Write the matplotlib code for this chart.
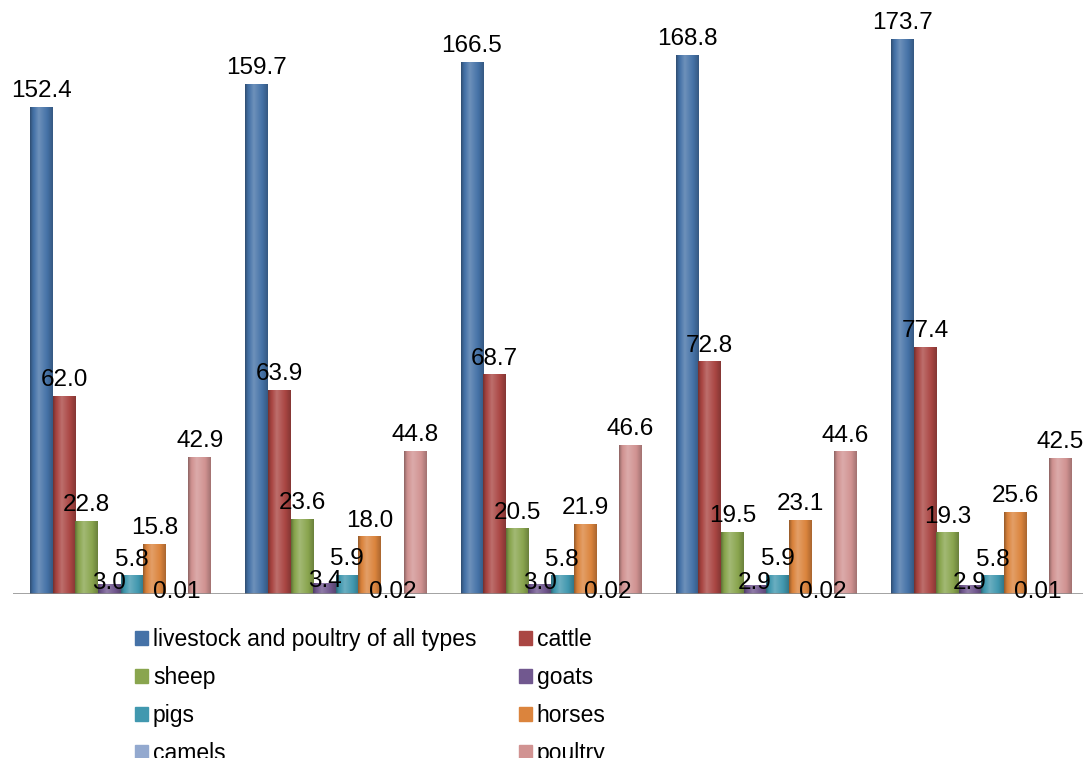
import numpy as np
import matplotlib.pyplot as plt
from matplotlib.colors import to_rgb
from matplotlib.patches import Patch

plt.rcParams['font.family'] = ['Liberation Sans', 'DejaVu Sans']

# livestock and poultry production, five periods (no period labels shown)
series = ['livestock and poultry of all types', 'cattle', 'sheep', 'goats',
          'pigs', 'horses', 'camels', 'poultry']
colors = ['#4572A7', '#AA4643', '#89A54E', '#71588F',
          '#4198AF', '#DB843D', '#93A9CF', '#D19392']
values = [
    [152.4, 159.7, 166.5, 168.8, 173.7],
    [62.0, 63.9, 68.7, 72.8, 77.4],
    [22.8, 23.6, 20.5, 19.5, 19.3],
    [3.0, 3.4, 3.0, 2.9, 2.9],
    [5.8, 5.9, 5.8, 5.9, 5.8],
    [15.8, 18.0, 21.9, 23.1, 25.6],
    [0.01, 0.02, 0.02, 0.02, 0.01],
    [42.9, 44.8, 46.6, 44.6, 42.5],
]
labels = [
    ['152.4', '159.7', '166.5', '168.8', '173.7'],
    ['62.0', '63.9', '68.7', '72.8', '77.4'],
    ['22.8', '23.6', '20.5', '19.5', '19.3'],
    ['3.0', '3.4', '3.0', '2.9', '2.9'],
    ['5.8', '5.9', '5.8', '5.9', '5.8'],
    ['15.8', '18.0', '21.9', '23.1', '25.6'],
    ['0.01', '0.02', '0.02', '0.02', '0.01'],
    ['42.9', '44.8', '46.6', '44.6', '42.5'],
]

W, H = 1083, 758
fig = plt.figure(figsize=(W / 100, H / 100), dpi=100)
ax = fig.add_axes([13 / W, (H - 594) / H, 1076 / W, 594 / H])

x = np.arange(5)
bw = 0.105


def shade(c, f):
    c = np.array(to_rgb(c))
    if f >= 1:
        return c + (1 - c) * (f - 1)
    return c * f


# horizontal gradient profile (dark edges, light streak left of centre)
pos = np.linspace(0, 1, 64)
prof = np.interp(pos, [0, 0.12, 0.38, 0.75, 1.0], [0.68, 0.95, 1.22, 1.0, 0.78])

for i, name in enumerate(series):
    xs = x - 4 * bw + (i + 0.5) * bw
    bars = ax.bar(xs, values[i], bw, color=colors[i], linewidth=0)
    grad = np.array([shade(colors[i], f) for f in prof])[None, :, :]
    for b in bars:
        x0, y0 = b.get_x(), b.get_y()
        im = ax.imshow(grad, extent=[x0, x0 + b.get_width(), y0, y0 + b.get_height()],
                       aspect='auto', interpolation='bilinear', zorder=2)
        im.set_clip_path(b)
    for xi, v, t in zip(xs, values[i], labels[i]):
        # tiny bars: Excel lets the label sit over the bar top
        dy = 7 if v >= 4 else -3
        ax.annotate(t, (xi, v), xytext=(0, dy), textcoords='offset points',
                    ha='center', va='baseline', fontsize=17.5, zorder=5)

ax.set_xlim(-0.5, 4.5)
ax.set_ylim(0, 185.9)
ax.axhline(0, color='#868686', linewidth=1.8, zorder=4)
for s in ax.spines.values():
    s.set_visible(False)
ax.set_xticks([])
ax.set_yticks([])

order = [0, 2, 4, 6, 1, 3, 5, 7]
handles = [Patch(color=colors[k]) for k in order]
fig.legend(handles, [series[k] for k in order], ncol=2, frameon=False,
           loc='upper left', bbox_to_anchor=(135 / W, (H - 628) / H),
           fontsize=16.5, handlelength=0.58, handleheight=0.58,
           handletextpad=0.2, columnspacing=1.85, labelspacing=0.66,
           borderpad=0, borderaxespad=0)

fig.savefig('out.png', dpi=100)
